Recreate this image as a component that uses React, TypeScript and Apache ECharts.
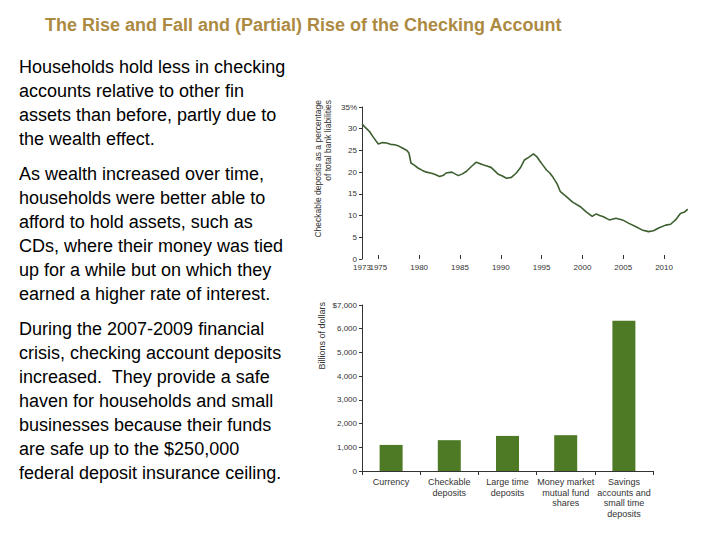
import React, { useEffect, useRef } from "react";
import * as echarts from "echarts";

const titleText = "The Rise and Fall and (Partial) Rise of the Checking Account";
const para1 = ["Households hold less in checking", "accounts relative to other fin", "assets than before, partly due to", "the wealth effect."];
const para2 = ["As wealth increased over time,", "households were better able to", "afford to hold assets, such as", "CDs, where their money was tied", "up for a while but on which they", "earned a higher rate of interest."];
const para3 = ["During the 2007-2009 financial", "crisis, checking account deposits", "increased.  They provide a safe", "haven for households and small", "businesses because their funds", "are safe up to the $250,000", "federal deposit insurance ceiling."];

const lineYears = [1973, 1973.4, 1973.9, 1974.4, 1974.75, 1975, 1975.5, 1976, 1976.5, 1977, 1977.5, 1978, 1978.5, 1978.75, 1979, 1979.4, 1979.9, 1980.4, 1980.9, 1981.4, 1981.9, 1982.5, 1983, 1983.3, 1984, 1984.8, 1985.3, 1985.8, 1986.4, 1987, 1987.4, 1987.8, 1988.3, 1988.8, 1989.2, 1989.7, 1990.2, 1990.7, 1991.3, 1991.9, 1992.4, 1992.9, 1993.5, 1994, 1994.4, 1994.8, 1995.2, 1995.6, 1996, 1996.4, 1996.9, 1997.3, 1998, 1998.8, 1999.7, 2000.5, 2001.2, 2001.7, 2002.1, 2002.5, 2003.3, 2004.1, 2004.9, 2005.7, 2006.5, 2007.3, 2008.1, 2008.7, 2009.4, 2010.2, 2010.8, 2011.4, 2012, 2012.5, 2012.9];
const lineValues = [31.1, 30.3, 29.4, 28.0, 27.1, 26.5, 26.8, 26.7, 26.4, 26.3, 26.0, 25.5, 25.0, 24.4, 22.1, 21.6, 20.9, 20.4, 20.0, 19.8, 19.5, 19.0, 19.3, 19.8, 20.0, 19.2, 19.6, 20.2, 21.3, 22.3, 22.0, 21.7, 21.4, 21.1, 20.4, 19.5, 19.1, 18.6, 18.8, 19.8, 21.0, 22.8, 23.5, 24.2, 23.6, 22.5, 21.5, 20.5, 19.8, 18.8, 17.3, 15.5, 14.4, 13.1, 12.1, 10.8, 9.8, 10.4, 10.0, 9.8, 9.0, 9.4, 9.0, 8.2, 7.5, 6.7, 6.3, 6.5, 7.2, 7.8, 8.0, 9.0, 10.5, 10.8, 11.5];
const lineXTicks = [1975, 1980, 1985, 1990, 1995, 2000, 2005, 2010];
const lineXStart = [1973];

const barCategories = ["Currency", "Checkable\ndeposits", "Large time\ndeposits", "Money market\nmutual fund\nshares", "Savings\naccounts and\nsmall time\ndeposits"];
const barValues = [1100, 1300, 1480, 1510, 6340];

export default function App() {
  const ref = useRef<HTMLDivElement>(null);
  useEffect(() => {
    if (!ref.current) return;
    const chart = echarts.init(ref.current, null, { renderer: "svg" });
    const tickFont = { fontFamily: "Liberation Sans, Arial, sans-serif", color: "#333", fontSize: 8 };
    const paraStyle = (lines: string[]) => ({
      text: lines.join("\n"),
      fontFamily: "Liberation Sans, Arial, sans-serif",
      fontSize: 18,
      lineHeight: 24,
      fill: "#000",
      align: "left",
      verticalAlign: "top",
    });
    chart.setOption({
      animation: false,
      backgroundColor: "#fff",
      grid: [
        { left: 362, right: 29, top: 107, bottom: 281, containLabel: false },
        { left: 362, right: 67, top: 305, bottom: 69, containLabel: false },
      ],
      xAxis: [
        {
          type: "value",
          gridIndex: 0,
          min: 1973,
          max: 2013.3,
          axisLine: { show: false },
          axisTick: { show: true, inside: true, length: 4, lineStyle: { color: "#333" }, customValues: lineXTicks },
          axisLabel: {
            ...tickFont,
            margin: 4,
            interval: 0,
            customValues: lineXTicks,
            formatter: (v: number) => String(v),
          },
          splitLine: { show: false },
        },
        {
          type: "category",
          gridIndex: 1,
          data: barCategories,
          axisLine: { show: true, lineStyle: { color: "#333", width: 1 } },
          axisTick: { show: true, length: 4, alignWithLabel: false, lineStyle: { color: "#333" } },
          axisLabel: { ...tickFont, fontSize: 9, interval: 0, lineHeight: 10.5, margin: 6 },
        },
        {
          type: "value",
          gridIndex: 0,
          position: "bottom",
          min: 1973,
          max: 2013.3,
          axisLine: { show: false },
          axisTick: { show: false },
          axisLabel: {
            ...tickFont,
            margin: 4,
            interval: 0,
            showMinLabel: true,
            customValues: lineXStart,
            formatter: (v: number) => String(v),
          },
          splitLine: { show: false },
        },
      ],
      yAxis: [
        {
          type: "value",
          gridIndex: 0,
          min: 0,
          max: 35,
          interval: 5,
          axisLine: { show: true, lineStyle: { color: "#333", width: 1 } },
          axisTick: { show: true, length: 3, lineStyle: { color: "#333" } },
          axisLabel: { ...tickFont, margin: 5, formatter: (v: number) => (v === 35 ? "35%" : String(v)) },
          splitLine: { show: false },
        },
        {
          type: "value",
          gridIndex: 1,
          min: 0,
          max: 7000,
          interval: 1000,
          axisLine: { show: true, lineStyle: { color: "#333", width: 1 } },
          axisTick: { show: true, length: 3, lineStyle: { color: "#333" } },
          axisLabel: {
            ...tickFont,
            margin: 5,
            formatter: (v: number) => (v === 7000 ? "$7,000" : v.toLocaleString("en-US")),
          },
          splitLine: { show: false },
        },
      ],
      series: [
        {
          type: "line",
          xAxisIndex: 0,
          yAxisIndex: 0,
          data: lineYears.map((y, i) => [y, lineValues[i]]),
          showSymbol: false,
          lineStyle: { color: "#3d5f30", width: 1.6 },
        },
        {
          type: "bar",
          xAxisIndex: 1,
          yAxisIndex: 1,
          data: barValues,
          barWidth: 23,
          itemStyle: { color: "#4e7a26" },
        },
      ],
      graphic: [
        {
          type: "text",
          left: 45,
          top: 16,
          style: {
            text: titleText,
            fontFamily: "Liberation Sans, Arial, sans-serif",
            fontWeight: "bold",
            fontSize: 18,
            fill: "#ad8a42",
          },
        },
        { type: "text", x: 19, y: 55, style: paraStyle(para1) },
        { type: "text", x: 19, y: 162, style: paraStyle(para2) },
        { type: "text", x: 19, y: 317, style: paraStyle(para3) },
        {
          type: "text",
          x: 323,
          y: 100,
          rotation: Math.PI / 2,
          style: {
            text: "Checkable deposits as a percentage\nof total bank liabilities",
            fontFamily: "Liberation Sans, Arial, sans-serif",
            fontSize: 8.5,
            lineHeight: 10,
            fill: "#333",
            align: "right",
            verticalAlign: "middle",
          },
        },
        {
          type: "text",
          x: 322,
          y: 302,
          rotation: Math.PI / 2,
          style: {
            text: "Billions of dollars",
            fontFamily: "Liberation Sans, Arial, sans-serif",
            fontSize: 9,
            fill: "#333",
            align: "right",
            verticalAlign: "middle",
          },
        },
      ],
    });
    return () => chart.dispose();
  }, []);
  return <div ref={ref} style={{ position: "fixed", left: 0, top: 0, width: 720, height: 540 }} />;
}
